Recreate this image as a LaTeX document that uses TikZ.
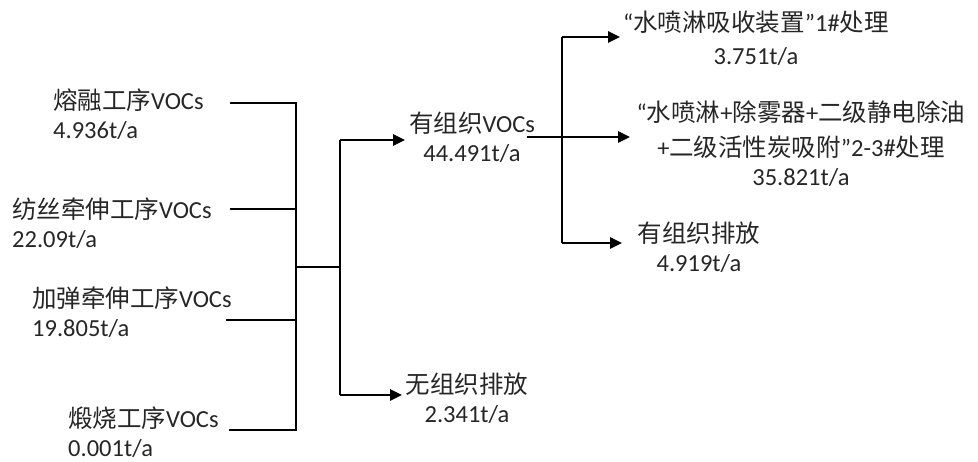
\documentclass[tikz,border=0pt]{standalone}
\usepackage{fontspec}
\setmainfont{Carlito}
\newfontfamily\cjk{Noto Sans CJK SC}
\usetikzlibrary{arrows.meta}
\begin{document}
\begin{tikzpicture}[x=1pt,y=-1pt,
  lbl/.style={inner sep=0pt, font=\fontsize{24.5}{29}\selectfont, text=black!85},
  wire/.style={line width=2.7pt, draw=black},
  arr/.style={wire, -{Triangle[length=12pt,width=11pt]}}]
\useasboundingbox (0,0) rectangle (978,462);
% left labels
\node[lbl, anchor=west, align=left] (l1) at (53,114) {{\cjk 熔融工序}VOCs\\4.936t/a};
\node[lbl, anchor=west, align=left] (l2) at (12,223) {{\cjk 纺丝牵伸工序}VOCs\\22.09t/a};
\node[lbl, anchor=west, align=left] (l3) at (32,312) {{\cjk 加弹牵伸工序}VOCs\\19.805t/a};
\node[lbl, anchor=west, align=left] (l4) at (68,432) {{\cjk 煅烧工序}VOCs\\0.001t/a};
% middle labels
\node[lbl, align=center] (m1) at (472,137) {{\cjk 有组织}VOCs\\44.491t/a};
\node[lbl, align=center] (m2) at (467,398) {{\cjk 无组织排放}\\2.341t/a};
% right labels
\node[lbl, align=center] (r1) at (756,38) {“{\cjk 水喷淋吸收装置}”1\#{\cjk 处理}\\[4pt]3.751t/a};
\node[lbl, align=center] (r2) at (801,144) {“{\cjk 水喷淋}+{\cjk 除雾器}+{\cjk 二级静电除油}\\[6pt]+{\cjk 二级活性炭吸附}”2-3\#{\cjk 处理}\\35.821t/a};
\node[lbl, align=center] (r3) at (699,247) {{\cjk 有组织排放}\\4.919t/a};
% junction coordinates
\coordinate (s1) at (230,103);
\coordinate (s2) at (230,209);
\coordinate (s3) at (226,320);
\coordinate (s4) at (229,430);
\coordinate (bt) at (296,103);
\coordinate (bb) at (296,430);
\coordinate (bm) at (296,267);
\coordinate (vm) at (340,267);
\coordinate (vt) at (340,140);
\coordinate (vb) at (340,395);
\coordinate (e1) at (405,140);
\coordinate (e2) at (402,395);
\coordinate (o1) at (527,137);
\coordinate (o2) at (630,137);
\coordinate (wt) at (562,37);
\coordinate (wb) at (562,243);
\coordinate (f1) at (620,37);
\coordinate (f3) at (622,243);
% left bus
\draw[wire] (s1) -- (bt) -- (bb) -- (s4);
\draw[wire] (s2) -- (s2 -| bt);
\draw[wire] (s3) -- (s3 -| bt);
\draw[wire] (bm) -- (vm);
\draw[wire] (vt) -- (vb);
\draw[arr] (vt) -- (e1);
\draw[arr] (vb) -- (e2);
% right fan
\draw[arr] (o1) -- (o2);
\draw[wire] (wt) -- (wb);
\draw[arr] (wt) -- (f1);
\draw[arr] (wb) -- (f3);
\end{tikzpicture}
\end{document}
